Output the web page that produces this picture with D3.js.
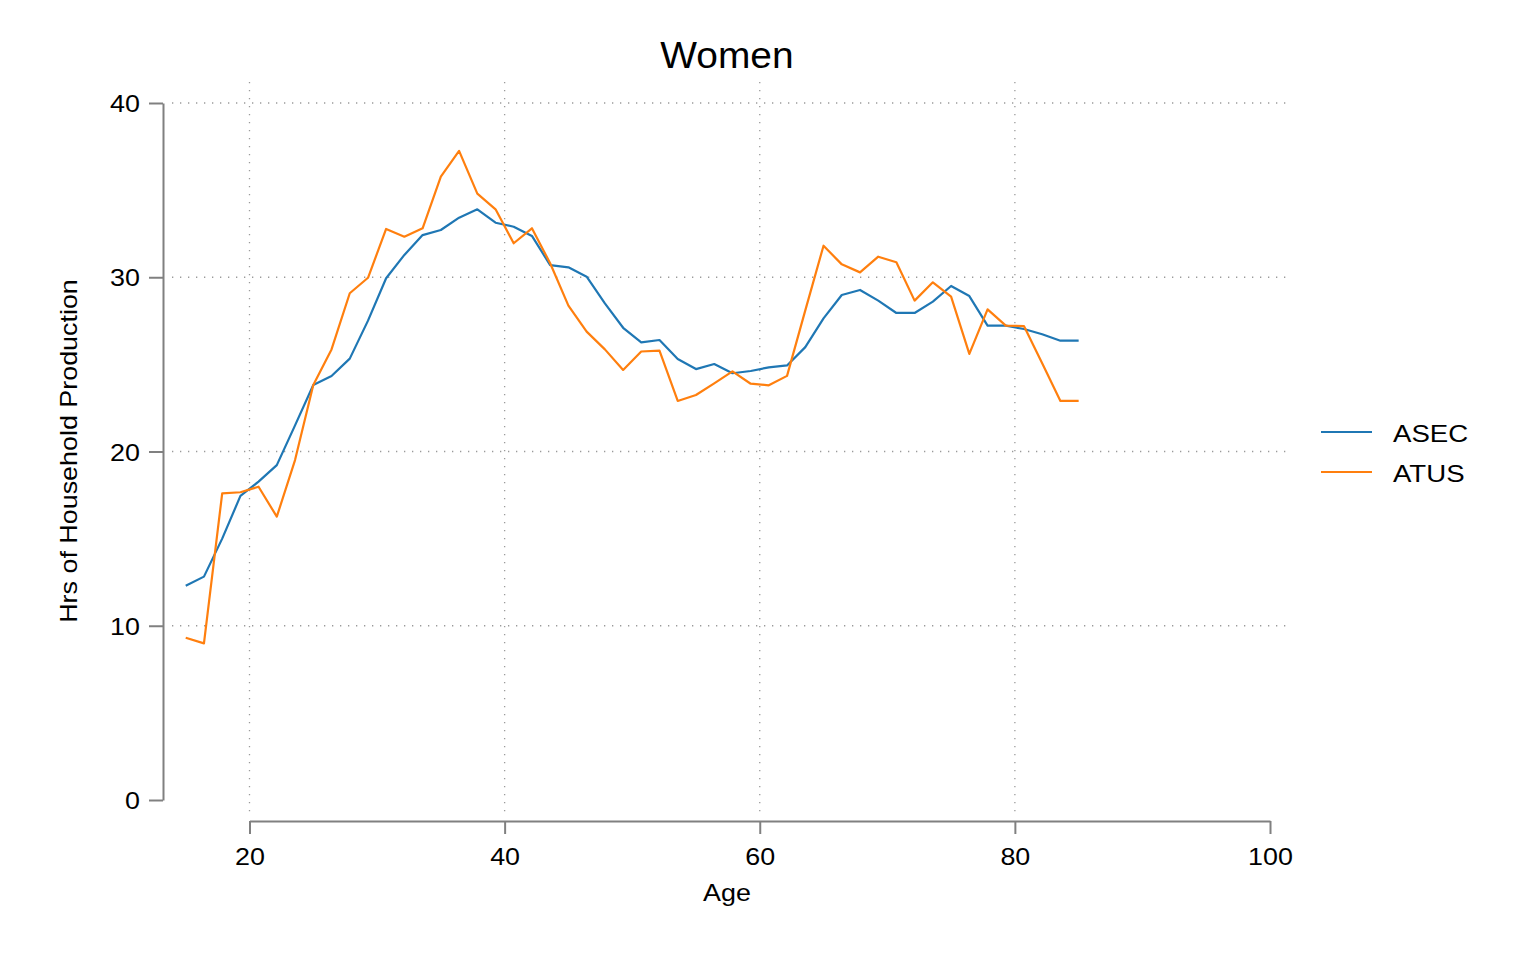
<!DOCTYPE html>
<html>
<head>
<meta charset="utf-8">
<script src="https://cdn.jsdelivr.net/npm/d3@7"></script>
<style>
  body { margin: 0; background: #fff; }
  text { font-family: "Liberation Sans", Arial, Helvetica, sans-serif; fill: #000; }
</style>
</head>
<body>
<div id="chart"></div>
<script>
// ages (15..85, 50 points)
var ages = [15.00, 16.43, 17.86, 19.29, 20.71, 22.14, 23.57, 25.00, 26.43, 27.86,
            29.29, 30.71, 32.14, 33.57, 35.00, 36.43, 37.86, 39.29, 40.71, 42.14,
            43.57, 45.00, 46.43, 47.86, 49.29, 50.71, 52.14, 53.57, 55.00, 56.43,
            57.86, 59.29, 60.71, 62.14, 63.57, 65.00, 66.43, 67.86, 69.29, 70.71,
            72.14, 73.57, 75.00, 76.43, 77.86, 79.29, 80.71, 82.14, 83.57, 85.00];

var asec = [12.30, 12.82, 15.00, 17.45, 18.27, 19.22, 21.50, 23.82, 24.33, 25.33,
            27.51, 29.94, 31.28, 32.42, 32.71, 33.42, 33.90, 33.13, 32.90, 32.37,
            30.70, 30.57, 30.03, 28.50, 27.10, 26.26, 26.40, 25.31, 24.73, 25.02,
            24.49, 24.62, 24.83, 24.94, 25.99, 27.64, 28.98, 29.27, 28.66, 27.95,
            27.95, 28.60, 29.50, 28.92, 27.22, 27.22, 27.03, 26.73, 26.36, 26.36];

var atus = [9.31, 8.99, 17.60, 17.66, 17.98, 16.26, 19.51, 23.82, 25.86, 29.08,
            29.97, 32.77, 32.33, 32.81, 35.77, 37.25, 34.80, 33.90, 31.95, 32.81,
            30.80, 28.37, 26.88, 25.86, 24.68, 25.74, 25.79, 22.90, 23.24, 23.91,
            24.60, 23.89, 23.80, 24.34, 28.10, 31.81, 30.74, 30.28, 31.18, 30.86,
            28.66, 29.71, 28.89, 25.60, 28.16, 27.22, 27.20, 25.06, 22.90, 22.90];

var seriesNames = ["ASEC", "ATUS"];
var seriesColors = ["#1f77b4", "#ff7f0e"];
var xTicks = [20, 40, 60, 80, 100];
var yTicks = [0, 10, 20, 30, 40];
var xGrid = [20, 40, 60, 80];
var yGrid = [10, 20, 30, 40];

var width = 1537, height = 960;
var axisColor = "#808080";
var stretchK = 1.12;   // glyphs in the original are a bit wider than Liberation Sans

var svg = d3.select("#chart").append("svg")
    .attr("width", width).attr("height", height);
svg.append("rect").attr("width", width).attr("height", height).attr("fill", "#fff");

var x = d3.scaleLinear().domain([20, 100]).range([249.5, 1270]);
var y = d3.scaleLinear().domain([0, 40]).range([800, 103]);

// widen a text selection along its own direction
var stretch = function(sel, k) {
    sel.each(function() {
        var len = this.getComputedTextLength();
        d3.select(this).attr("textLength", len * k).attr("lengthAdjust", "spacingAndGlyphs");
    });
};

// grid
var grid = svg.append("g").attr("class", "grid")
    .attr("stroke", "#9a9a9a").attr("stroke-width", 1.3).attr("stroke-dasharray", "1.3,6.7");
grid.selectAll("line.h").data(yGrid).enter().append("line").attr("class", "h")
    .attr("x1", 172).attr("x2", 1288)
    .attr("y1", function(d) { return y(d); }).attr("y2", function(d) { return y(d); });
grid.selectAll("line.v").data(xGrid).enter().append("line").attr("class", "v")
    .attr("y1", 82).attr("y2", 814)
    .attr("x1", function(d) { return x(d); }).attr("x2", function(d) { return x(d); });

// y axis
var yAxis = svg.append("g").attr("transform", "translate(163,0)")
    .call(d3.axisLeft(y).tickValues(yTicks).tickSizeInner(14).tickSizeOuter(0).tickPadding(9));
// x axis
var xAxis = svg.append("g").attr("transform", "translate(0,821)")
    .call(d3.axisBottom(x).tickValues(xTicks).tickSizeInner(13).tickSizeOuter(0));

[yAxis, xAxis].forEach(function(ax) {
    ax.select(".domain").attr("stroke", axisColor).attr("stroke-width", 2);
    ax.selectAll(".tick line").attr("stroke", axisColor).attr("stroke-width", 2);
    ax.selectAll(".tick text").attr("font-size", 24).attr("fill", "#000")
        .style("font-family", "'Liberation Sans', Arial, sans-serif");
});
yAxis.selectAll(".tick text").attr("dy", "0.36em");
xAxis.selectAll(".tick text").attr("y", 44).attr("dy", 0);
stretch(yAxis.selectAll(".tick text"), stretchK);
stretch(xAxis.selectAll(".tick text"), stretchK);

// lines
var line = d3.line()
    .x(function(d) { return x(d[0]); })
    .y(function(d) { return y(d[1]); });
var series = [asec, atus];
svg.append("g").selectAll("path").data(series).enter().append("path")
    .attr("d", function(vals) { return line(ages.map(function(a, i) { return [a, vals[i]]; })); })
    .attr("fill", "none")
    .attr("stroke", function(d, i) { return seriesColors[i]; })
    .attr("stroke-width", 2.2)
    .attr("stroke-linejoin", "round");

// title and axis labels
var title = svg.append("text").text("Women")
    .attr("x", 727).attr("y", 68).attr("text-anchor", "middle").attr("font-size", 36);
stretch(title, 1.08);

var xLabel = svg.append("text").text("Age")
    .attr("x", 727).attr("y", 901).attr("text-anchor", "middle").attr("font-size", 24);
stretch(xLabel, stretchK);

var yLabel = svg.append("text").text("Hrs of Household Production")
    .attr("transform", "translate(77,451) rotate(-90)")
    .attr("text-anchor", "middle").attr("font-size", 24);
stretch(yLabel, stretchK);

// legend
var legend = svg.append("g").attr("transform", "translate(1321,432)");
var items = legend.selectAll("g").data(seriesNames).enter().append("g")
    .attr("transform", function(d, i) { return "translate(0," + i * 40 + ")"; });
items.append("line").attr("x1", 0).attr("x2", 51).attr("y1", 0).attr("y2", 0)
    .attr("stroke", function(d, i) { return seriesColors[i]; }).attr("stroke-width", 2.2);
var legendText = items.append("text").text(function(d) { return d; })
    .attr("x", 72).attr("y", 10).attr("font-size", 24);
stretch(legendText, 1.15);
</script>
</body>
</html>
